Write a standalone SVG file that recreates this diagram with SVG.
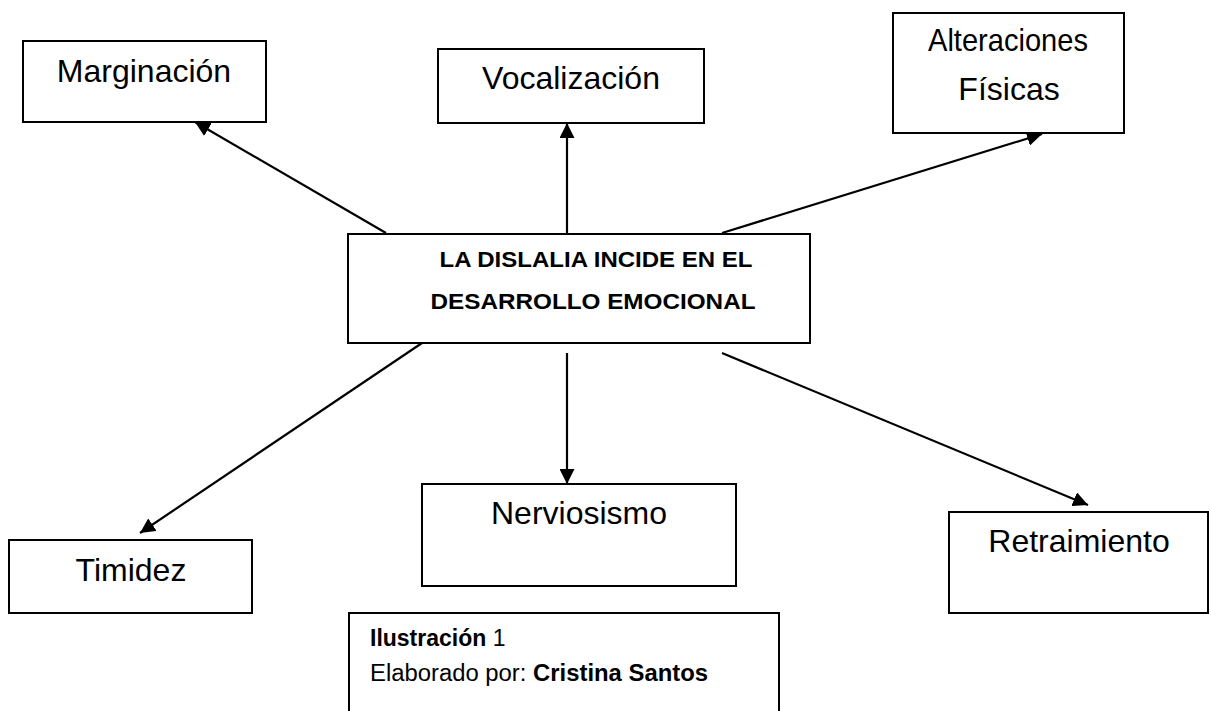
<svg xmlns="http://www.w3.org/2000/svg" width="1211" height="711" viewBox="0 0 1211 711">
<style>
.box{fill:#fff;stroke:#000;stroke-width:2}
.lbl{font-family:"Liberation Sans",Arial,sans-serif;font-size:32px;fill:#000;text-anchor:middle}
.ctr{font-family:"Liberation Sans",Arial,sans-serif;font-size:21.5px;font-weight:bold;fill:#000;text-anchor:middle}
.cap{font-family:"Liberation Sans",Arial,sans-serif;font-size:23px;fill:#000}
.edge{stroke:#000;stroke-width:2.2;fill:none;marker-end:url(#ah)}
</style>
<defs>
<marker id="ah" markerUnits="userSpaceOnUse" markerWidth="16" markerHeight="15" refX="15" refY="7.5" orient="auto" viewBox="0 0 16 15">
<path d="M0,0 L15,7.5 L0,15 z" fill="#000"/>
</marker>
</defs>
<rect width="1211" height="711" fill="#fff"/>
<g id="connectors">
<line class="edge" x1="386" y1="233" x2="195" y2="122"/>
<line class="edge" x1="567" y1="233" x2="567" y2="123"/>
<line class="edge" x1="722" y1="233" x2="1042" y2="134"/>
<line class="edge" x1="422" y1="343" x2="140" y2="533"/>
<line class="edge" x1="567" y1="353" x2="567" y2="484"/>
<line class="edge" x1="722" y1="353" x2="1088" y2="505"/>
</g>
<g id="marginacion">
<rect class="box" x="23" y="41" width="243" height="81"/>
<text class="lbl" x="144" y="82">Marginación</text>
</g>
<g id="vocalizacion">
<rect class="box" x="438" y="49" width="266" height="74"/>
<text class="lbl" x="571" y="89">Vocalización</text>
</g>
<g id="alteraciones">
<rect class="box" x="893" y="13" width="231" height="120"/>
<text class="lbl" x="1008" y="51" textLength="160" lengthAdjust="spacingAndGlyphs">Alteraciones</text>
<text class="lbl" x="1009" y="100">Físicas</text>
</g>
<g id="centro">
<rect class="box" x="348" y="234" width="462" height="109"/>
<text class="ctr" x="596" y="267" textLength="313" lengthAdjust="spacingAndGlyphs">LA DISLALIA INCIDE EN EL</text>
<text class="ctr" x="593" y="309" textLength="325" lengthAdjust="spacingAndGlyphs">DESARROLLO EMOCIONAL</text>
</g>
<g id="timidez">
<rect class="box" x="9" y="540" width="243" height="73"/>
<text class="lbl" x="131" y="581">Timidez</text>
</g>
<g id="nerviosismo">
<rect class="box" x="422" y="484" width="314" height="102"/>
<text class="lbl" x="579" y="524">Nerviosismo</text>
</g>
<g id="retraimiento">
<rect class="box" x="949" y="512" width="259" height="101"/>
<text class="lbl" x="1079" y="552">Retraimiento</text>
</g>
<g id="caption">
<path d="M349,720 V613 H779 V720" fill="#fff" stroke="#000" stroke-width="2"/>
<text class="cap" x="370" y="646"><tspan font-weight="bold">Ilustración</tspan> 1</text>
<text class="cap" x="370" y="681" textLength="338" lengthAdjust="spacingAndGlyphs">Elaborado por: <tspan font-weight="bold">Cristina Santos</tspan></text>
</g>
</svg>
